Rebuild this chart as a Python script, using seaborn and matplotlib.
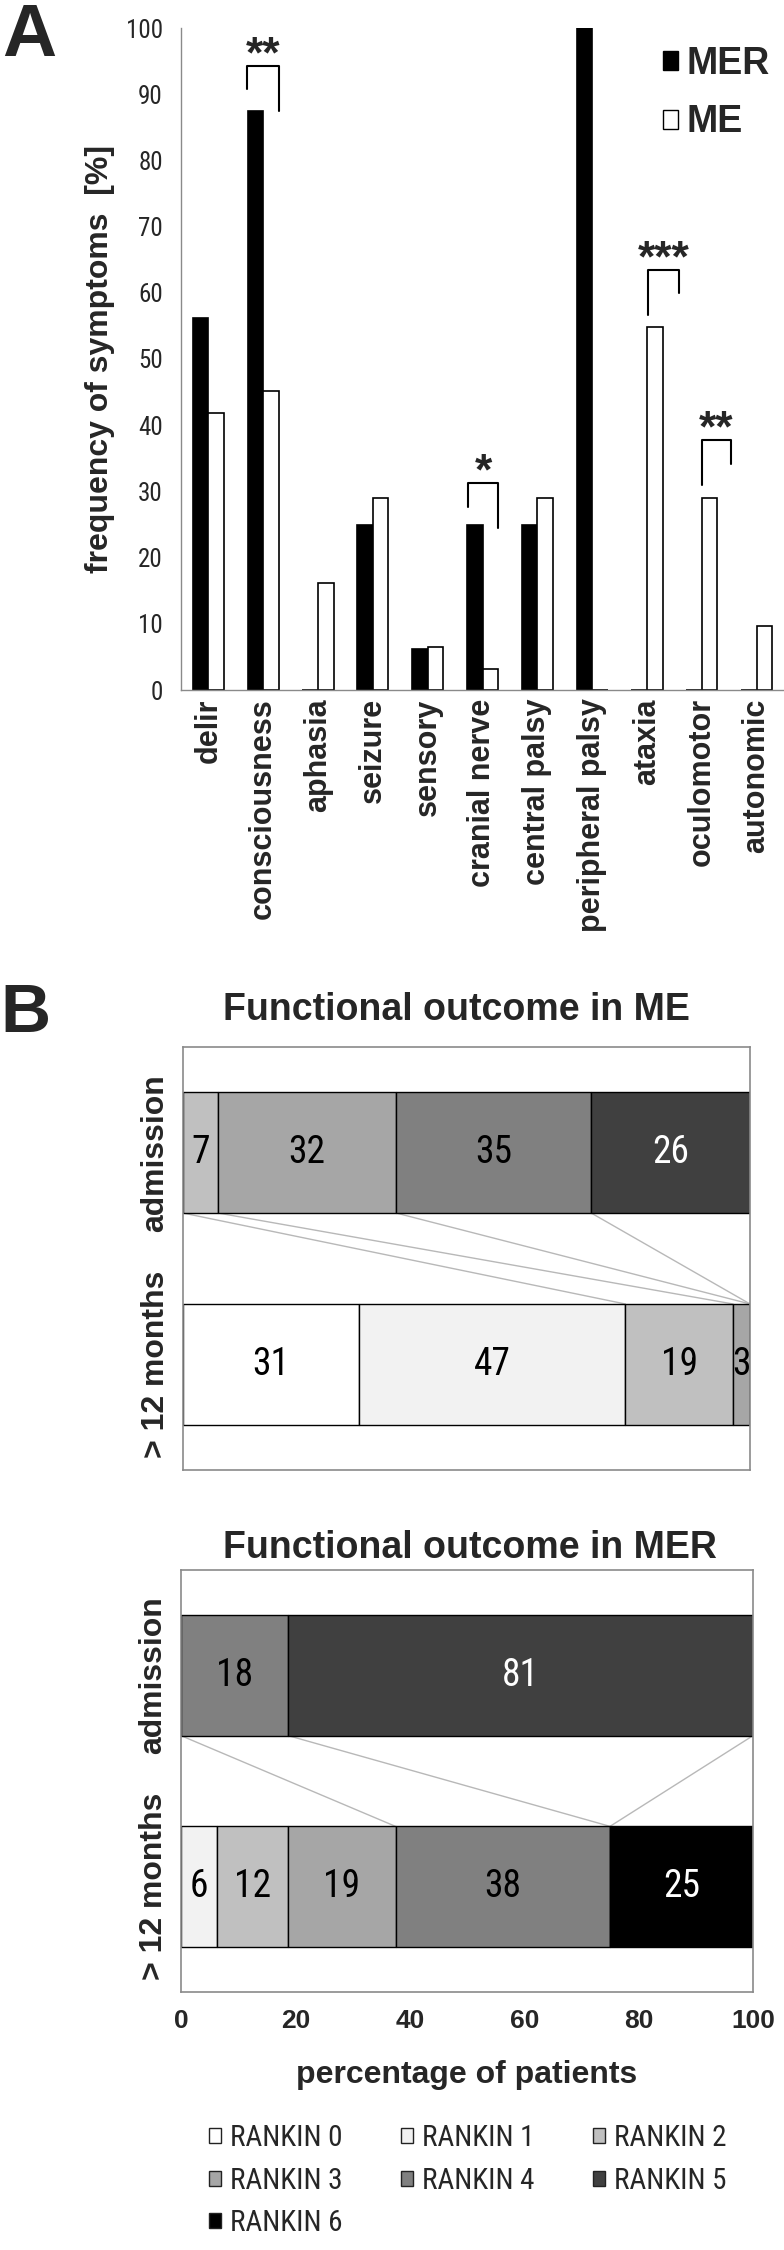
import numpy as np
import pandas as pd
import matplotlib
matplotlib.use('Agg')
import matplotlib.pyplot as plt
from matplotlib.patches import Patch
import seaborn as sns

sns.set_style('white')
plt.rcParams['font.family'] = ['Liberation Sans', 'DejaVu Sans']
NARROW = ['Roboto Condensed', 'Liberation Sans']

# Panel A: symptom frequencies [%]
symptoms = ['delir', 'consciousness', 'aphasia', 'seizure', 'sensory', 'cranial nerve',
            'central palsy', 'peripheral palsy', 'ataxia', 'oculomotor', 'autonomic']
mer_pct = [56.25, 87.5, 0, 25, 6.25, 25, 25, 100, 0, 0, 0]
me_pct = [41.9, 45.2, 16.1, 29.0, 6.45, 3.2, 29.0, 0, 54.8, 29.0, 9.7]
groups = ['MER', 'ME']
group_colors = {'MER': 'black', 'ME': 'white'}

# significance brackets: symptom, left/right offset from category, top, left end, right end, stars
sig_marks = [
    ('consciousness', -0.29, 0.29, 94.3, 90.8, 87.5, '**'),
    ('cranial nerve', -0.27, 0.29, 31.2, 27.7, 24.4, '*'),
    ('ataxia', 0.02, 0.58, 63.5, 56.6, 59.9, '***'),
    ('oculomotor', 0.0, 0.54, 37.8, 31.0, 34.1, '**'),
]

# Panel B: modified Rankin scale, percentage of patients
rankin = [f'RANKIN {i}' for i in range(7)]
rankin_colors = ['#ffffff', '#f2f2f2', '#c0c0c0', '#a6a6a6', '#808080', '#404040', '#000000']
timepoints = ['admission', '> 12 months']

me_admission = [0, 0, 6.2, 31.4, 34.4, 28.0, 0]
me_admission_labels = ['', '', '7', '32', '35', '26', '']
me_later = [31, 47, 19, 3, 0, 0, 0]
me_later_labels = ['31', '47', '19', '3', '', '', '']
me_links = ['RANKIN 1', 'RANKIN 2', 'RANKIN 3', 'RANKIN 4']

mer_admission = [0, 0, 0, 0, 18.75, 81.25, 0]
mer_admission_labels = ['', '', '', '', '18', '81', '']
mer_later = [0, 6.25, 12.5, 18.75, 37.5, 0, 25]
mer_later_labels = ['', '6', '12', '19', '38', '', '25']
mer_links = ['RANKIN 3', 'RANKIN 4', 'RANKIN 5']

W, H = 784, 2250
fig = plt.figure(figsize=(W / 100, H / 100), dpi=100)


def box(x0, y0, x1, y1):
    return [x0 / W, 1 - y1 / H, (x1 - x0) / W, (y1 - y0) / H]


# ---------------- panel A ----------------
axA = fig.add_axes(box(181, 28, 784, 690))
dfA = pd.DataFrame({
    'symptom': symptoms * 2,
    'group': ['MER'] * len(symptoms) + ['ME'] * len(symptoms),
    'pct': mer_pct + me_pct,
})
sns.barplot(data=dfA, x='symptom', y='pct', hue='group', order=symptoms, hue_order=groups,
            palette=group_colors, saturation=1, width=0.57, edgecolor='black',
            linewidth=1.2, errorbar=None, legend=False, ax=axA)
axA.set_xlim(-0.5, len(symptoms) - 0.5)
axA.set_ylim(0, 100)
axA.set_yticks(range(0, 101, 10))
for t in axA.get_yticklabels():
    t.set_fontfamily(NARROW)
    t.set_fontsize(18)
axA.set_xticks(range(len(symptoms)))
axA.set_xticklabels(symptoms, rotation=90, fontweight='bold', fontsize=22, va='top', ha='center')
axA.set_xticks(np.arange(-0.5, len(symptoms), 1), minor=True)
axA.tick_params(axis='x', which='major', length=0, pad=6)
axA.tick_params(axis='x', which='minor', length=7, width=1, color='#8a8a8a', direction='out')
axA.tick_params(axis='y', length=7, width=1, color='#8a8a8a', direction='out', pad=6)
for s in ['top', 'right']:
    axA.spines[s].set_visible(False)
for s in ['left', 'bottom']:
    axA.spines[s].set_color('#8a8a8a')
    axA.spines[s].set_linewidth(1)
axA.set_xlabel('')
axA.set_ylabel('frequency of symptoms  [%]', fontsize=23, fontweight='bold')
axA.yaxis.set_label_coords(-0.11, 0.5)

for name, xl, xr, top, lend, rend, stars in sig_marks:
    c = symptoms.index(name)
    axA.plot([c + xl, c + xl, c + xr, c + xr], [lend, top, top, rend], color='black', lw=1.5)
    axA.annotate(stars, xy=(c + (xl + xr) / 2, top), xytext=(0, -1), textcoords='offset points',
                 ha='center', va='baseline', fontsize=32, fontweight='bold')

handles = [Patch(facecolor=group_colors[g], edgecolor='black', linewidth=1) for g in groups]
axA.legend(handles, groups, loc='upper left', bbox_to_anchor=(663 / W, 1 - 46 / H),
           bbox_transform=fig.transFigure, frameon=False, prop={'weight': 'bold', 'size': 27},
           handlelength=0.4, handleheight=0.4, handletextpad=0.22, labelspacing=0.6,
           borderpad=0, borderaxespad=0)

fig.text(2 / W, 1 - 2 / H, 'A', fontsize=54, fontweight='bold', ha='left', va='top')
fig.text(0 / W, 1 - 982 / H, 'B', fontsize=50, fontweight='bold', ha='left', va='top')

# ---------------- panel B ----------------
panels = [
    ('Functional outcome in ME', box(183, 1047, 750, 1470), (456, 1020),
     me_admission, me_later, me_admission_labels, me_later_labels, me_links, False),
    ('Functional outcome in MER', box(181, 1570, 753, 1992), (470, 1558),
     mer_admission, mer_later, mer_admission_labels, mer_later_labels, mer_links, True),
]
bar_h = 0.57
for title, rect, (tx, ty), adm, later, adm_lab, later_lab, links, show_x in panels:
    ax = fig.add_axes(rect)
    series = np.array([adm, later], dtype=float)
    labels = [adm_lab, later_lab]
    cum = np.cumsum(series, axis=1)
    starts = cum - series
    for k, name in enumerate(rankin):
        vals = series[:, k]
        if vals.sum() == 0:
            continue
        sns.barplot(x=vals, y=timepoints, order=timepoints, orient='h', left=starts[:, k],
                    color=rankin_colors[k], saturation=1, width=bar_h, edgecolor='black',
                    linewidth=1, errorbar=None, ax=ax)
        for i in range(2):
            if labels[i][k]:
                ax.text(starts[i, k] + vals[i] / 2, i, labels[i][k], ha='center', va='center',
                        fontsize=27, family=NARROW, color='white' if k >= 5 else 'black')
    for name in links:
        k = rankin.index(name)
        ax.plot([cum[0, k], cum[1, k]], [bar_h / 2, 1 - bar_h / 2], color='#b8b8b8', lw=1, zorder=0.5)
    ax.set_xlim(0, 100)
    ax.set_ylim(1.5, -0.5)
    ax.set_yticks([0, 1])
    ax.set_yticklabels(timepoints, rotation=90, va='center', fontweight='bold', fontsize=23)
    ax.tick_params(axis='y', length=0, pad=9)
    ax.set_ylabel('')
    for s in ax.spines.values():
        s.set_visible(True)
        s.set_color('#8a8a8a')
        s.set_linewidth(1.2)
    if show_x:
        ax.set_xticks(range(0, 101, 20))
        ax.set_xticklabels([str(v) for v in range(0, 101, 20)], fontweight='bold', fontsize=19)
        ax.tick_params(axis='x', length=0, pad=12)
        ax.set_xlabel('percentage of patients', fontsize=23, fontweight='bold', labelpad=20)
    else:
        ax.set_xticks([])
        ax.set_xlabel('')
    fig.text(tx / W, 1 - ty / H, title, ha='center', va='baseline', fontsize=27, fontweight='bold')

order = [0, 3, 6, 1, 4, 2, 5]
leg_handles = [Patch(facecolor=rankin_colors[k], edgecolor='#222222', linewidth=1) for k in order]
fig.legend(leg_handles, [rankin[k] for k in order], ncol=3, loc='upper left',
           bbox_to_anchor=(209 / W, 1 - 2124 / H), frameon=False,
           prop={'family': NARROW, 'size': 21}, handlelength=0.42, handleheight=0.42,
           handletextpad=0.3, columnspacing=2.0, labelspacing=0.5, borderpad=0, borderaxespad=0)

fig.savefig('out.png', dpi=100)
